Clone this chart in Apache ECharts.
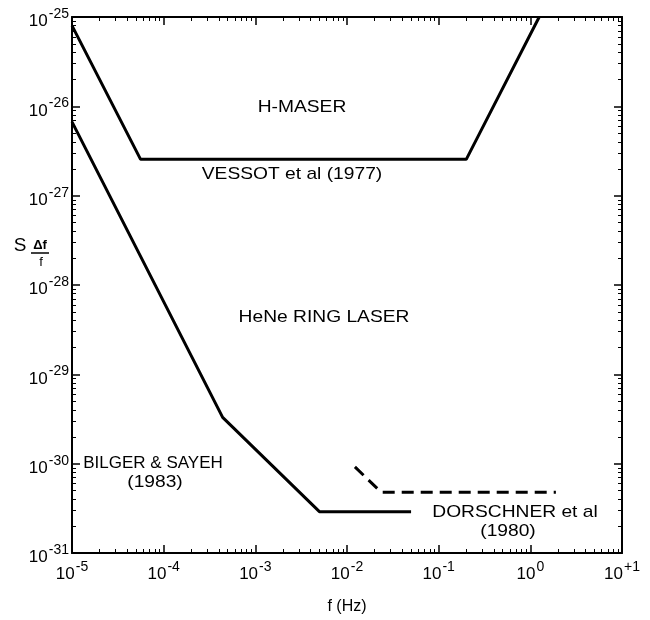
<!DOCTYPE html>
<html>
<head>
<meta charset="utf-8">
<script src="https://cdn.jsdelivr.net/npm/echarts@6/dist/echarts.min.js"></script>
<style>html,body{margin:0;padding:0;background:#fff;}#c{width:650px;height:620px;}</style>
</head>
<body>
<div id="c"></div>
<script>
// Tick labels (exponents of 10)
var xTickExponents = ['-5', '-4', '-3', '-2', '-1', '0', '+1'];
var yTickExponents = ['-31', '-30', '-29', '-28', '-27', '-26', '-25'];

// H-maser, Vessot et al (1977): f (Hz) and spectral density S
var vessotF = [1e-5, 5.6e-5, 0.2, 1.25];
var vessotS = [8e-26, 2.55e-27, 2.55e-27, 1e-25];

// Bilger & Sayeh (1983)
var bilgerF = [1e-5, 4.4e-4, 5e-3, 0.05];
var bilgerS = [6.7e-27, 3.3e-30, 2.9e-31, 2.9e-31];

// Dorschner et al (1980), dashed
var dorschnerF = [0.0122, 0.0235, 1.9];
var dorschnerS = [9.2e-31, 4.8e-31, 4.8e-31];

// ECharts' log scale rounds away values as small as 1e-31, so S is plotted in
// units of 1e-31 (axis runs 1 .. 1e6, labelled 10^-31 .. 10^-25).
var S_UNIT = 1e-31;
function pairs(fs, ss) { return fs.map(function (f, i) { return [f, ss[i] / S_UNIT]; }); }

var FONT = 'Liberation Sans';
var chart = echarts.init(document.getElementById('c'));

var richLabel = {
  b: { fontSize: 17, fontFamily: FONT, color: '#000', padding: [9, 0, 0, 0] },
  s: { fontSize: 14, fontFamily: FONT, color: '#000', padding: [0, 0, 6, 1] }
};

function logExp(v) { return Math.round(Math.log(v) / Math.LN10); }

function axis(extra) {
  var a = {
    type: 'log',
    logBase: 10,
    axisLine: { show: true, lineStyle: { color: '#000', width: 2 } },
    axisTick: { show: true, inside: true, length: 8, lineStyle: { color: '#000', width: 1.5 } },
    minorTick: { show: true, splitNumber: 9, length: 4, lineStyle: { color: '#000', width: 1 } },
    splitLine: { show: false },
    minorSplitLine: { show: false }
  };
  for (var k in extra) a[k] = extra[k];
  return a;
}

function label(text, x, y, sx) {
  return {
    type: 'text', x: x, y: y, scaleX: sx || 1.13,
    style: { text: text, font: '17px ' + FONT, fill: '#000', align: 'center', verticalAlign: 'middle' }
  };
}

var option = {
  animation: false,
  backgroundColor: '#fff',
  grid: { left: 72, top: 17, right: 28, bottom: 61 },
  xAxis: [
    axis({
      position: 'bottom', min: 1e-5, max: 10,
      name: 'f (Hz)', nameLocation: 'middle', nameGap: 46,
      nameTextStyle: { fontFamily: FONT, fontSize: 16, color: '#000' },
      axisLabel: {
        margin: 4, color: '#000',
        formatter: function (v) {
          var i = logExp(v) + 5;
          return '{b|10}{s|' + xTickExponents[i] + '}';
        },
        rich: richLabel
      }
    }),
    axis({ position: 'top', min: 1e-5, max: 10, axisLabel: { show: false } })
  ],
  yAxis: [
    axis({
      position: 'left', min: 1, max: 1e6,
      axisLabel: {
        margin: 3, color: '#000',
        formatter: function (v) {
          var i = logExp(v);
          return '{b|10}{s|' + yTickExponents[i] + '}';
        },
        rich: richLabel
      }
    }),
    axis({ position: 'right', min: 1, max: 1e6, axisLabel: { show: false } })
  ],
  series: [
    {
      name: 'VESSOT et al (1977)', type: 'line', xAxisIndex: 0, yAxisIndex: 0,
      data: pairs(vessotF, vessotS), symbol: 'none',
      lineStyle: { color: '#000', width: 3 }
    },
    {
      name: 'BILGER & SAYEH (1983)', type: 'line', xAxisIndex: 0, yAxisIndex: 0,
      data: pairs(bilgerF, bilgerS), symbol: 'none',
      lineStyle: { color: '#000', width: 3 }
    },
    {
      name: 'DORSCHNER et al (1980)', type: 'line', xAxisIndex: 0, yAxisIndex: 0,
      data: pairs(dorschnerF, dorschnerS), symbol: 'none',
      lineStyle: { color: '#000', width: 3, type: [12, 7] }
    }
  ],
  graphic: [
    label('H-MASER', 302, 107),
    label('VESSOT et al (1977)', 292, 174),
    label('HeNe RING LASER', 324, 317),
    label('BILGER & SAYEH', 153, 463, 1.0),
    label('(1983)', 155, 482),
    label('DORSCHNER et al', 515, 512),
    label('(1980)', 508, 531),
    { type: 'text', x: 20, y: 246, style: { text: 'S', font: '19px ' + FONT, fill: '#000', align: 'center', verticalAlign: 'middle' } },
    { type: 'text', x: 40, y: 245, style: { text: 'Δf', font: 'bold 13px ' + FONT, fill: '#000', align: 'center', verticalAlign: 'middle' } },
    { type: 'line', shape: { x1: 31, y1: 253, x2: 49, y2: 253 }, style: { stroke: '#000', lineWidth: 1.5 } },
    { type: 'text', x: 41, y: 262, style: { text: 'f', font: '13px ' + FONT, fill: '#000', align: 'center', verticalAlign: 'middle' } }
  ]
};
chart.setOption(option);
</script>
</body>
</html>
